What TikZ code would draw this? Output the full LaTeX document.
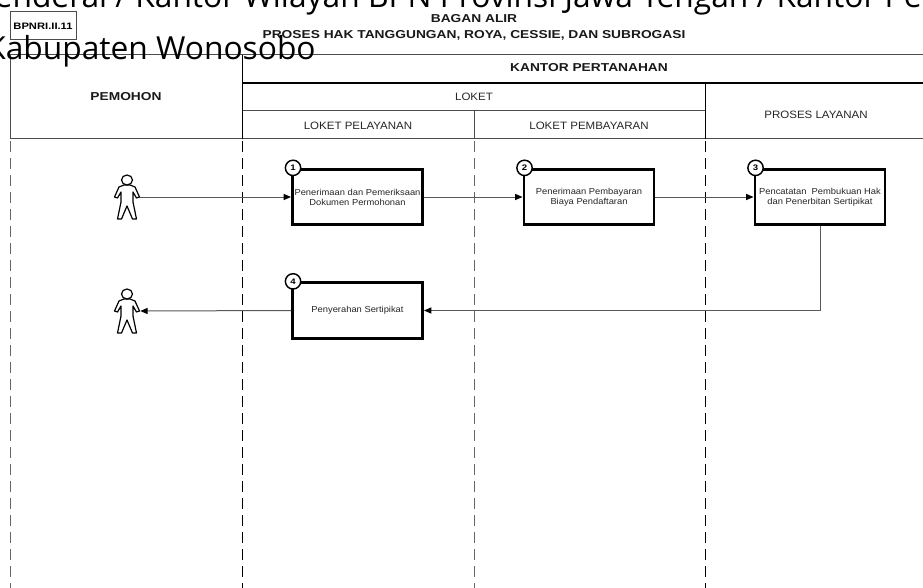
\documentclass[tikz,border=0pt]{standalone}
\usepackage{fontspec}
\setmainfont{Liberation Sans}
\newfontfamily\hdrfont[FakeStretch=1.2]{Liberation Sans}
\newfontfamily\regfont[FakeStretch=1.08]{Liberation Sans}
\newfontfamily\ovfont{Open Sans}
\usetikzlibrary{arrows.meta}
\tikzset{
  hdr/.style={font=\hdrfont\bfseries\fontsize{8.6pt}{10pt}\selectfont, inner sep=0pt, text=black!90},
  reg/.style={font=\regfont\fontsize{8pt}{9.5pt}\selectfont, inner sep=0pt, text=black!85},
  tline/.style={line width=0.75pt, draw=black!70},
  thickline/.style={line width=1.7pt, draw=black},
  lane/.style={line width=0.75pt, draw=black!75, dash pattern=on 8.25pt off 4.5pt},
  procbox/.style={draw=black, line width=2.2pt, fill=white, minimum width=97.5pt, minimum height=41.5pt,
    inner sep=1pt, align=center, font=\regfont\fontsize{6.5pt}{7.5pt}\selectfont, text=black!85},
  numcirc/.style={circle, draw=black, line width=1.1pt, fill=white, minimum size=11.5pt, inner sep=0pt,
    font=\hdrfont\bfseries\fontsize{6pt}{7pt}\selectfont},
  conn/.style={draw=black!65, line width=0.75pt},
  arr/.style={conn, -{Triangle[length=5.5pt,width=4.5pt,color=black]}},
  personspot/.style={minimum width=19.5pt, minimum height=33pt, inner sep=0pt},
  ovtext/.style={font=\ovfont\fontsize{23.8pt}{28pt}\selectfont, inner sep=0pt, anchor=base west, text=black},
  person/.pic={
    \draw[line width=0.9pt, fill=white, line join=round]
      (-3,-12) -- (-8,-10) -- (-12.5,0) -- (-9.5,1) -- (-6,-5) -- (-6,5) -- (-9.5,22) -- (-5.5,22)
      -- (0,9) -- (5.5,22) -- (9.5,22) -- (6,5) -- (6,-5) -- (9.5,1) -- (12.5,0) -- (8,-10) -- (3,-12) -- cycle;
    \draw[line width=0.9pt, fill=white] (0,-17) ellipse [x radius=5.5, y radius=5];
  }
}
\begin{document}
\begin{tikzpicture}[x=0.75pt,y=-0.75pt]
\useasboundingbox (0,0) rectangle (923,588);
\fill[white] (0,0) rectangle (923,588);

% code box and titles
\node[draw=black!70, line width=0.75pt, minimum width=49.5pt, minimum height=21pt, inner sep=0pt,
      font=\hdrfont\bfseries\fontsize{7pt}{8pt}\selectfont] (code) at (43,26) {BPNRI.II.11};
\node[hdr] (title1) at (474,19) {BAGAN ALIR};
\node[hdr] (title2) at (474,35.5) {PROSES HAK TANGGUNGAN, ROYA, CESSIE, DAN SUBROGASI};

% table header
\draw[tline] (10,55) -- (923,55);
\draw[thickline] (242,83) -- (923,83);
\draw[tline] (242,111) -- (705,111);
\draw[tline] (10,139) -- (923,139);
\draw[tline] (10,55) -- (10,139);
\draw[line width=0.75pt, draw=black] (242,55) -- (242,139);
\draw[tline] (474,111) -- (474,139);
\draw[line width=0.75pt, draw=black] (705,83) -- (705,139);

\node[hdr] (kantor) at (589,67.5) {KANTOR PERTANAHAN};
\node[hdr] (pemohon) at (126,97) {PEMOHON};
\node[reg] (loket) at (474,97) {LOKET};
\node[reg] (lpel) at (358,125.5) {LOKET PELAYANAN};
\node[reg] (lpem) at (589,125.5) {LOKET PEMBAYARAN};
\node[reg] (plyn) at (816,115) {PROSES LAYANAN};

% lanes
\draw[lane, draw=black!60] (10,141) -- (10,588);
\draw[lane, draw=black] (242,141) -- (242,588);
\draw[lane, draw=black!60] (474,141) -- (474,588);
\draw[lane, draw=black] (705,141) -- (705,588);

% persons
\pic at (127,197) {person};
\pic at (127,311) {person};
\node[personspot] (p1) at (127,197) {};
\node[personspot] (p2) at (127,311) {};

% process boxes
\node[procbox] (b1) at (357.5,197) {Penerimaan dan Pemeriksaan\\Dokumen Permohonan};
\node[procbox] (b2) at (589,197) {Penerimaan Pembayaran\\Biaya Pendaftaran};
\node[procbox] (b3) at (820,197) {Pencatatan\ \ Pembukuan Hak\\dan Penerbitan Sertipikat};
\node[procbox] (b4) at (357.5,310.5) {Penyerahan Sertipikat};

\node[numcirc] (n1) at ([xshift=1.5pt]b1.north west) {1};
\node[numcirc] (n2) at ([xshift=1.5pt]b2.north west) {2};
\node[numcirc] (n3) at ([xshift=1.5pt]b3.north west) {3};
\node[numcirc] (n4) at ([xshift=1.5pt]b4.north west) {4};

% connectors
\draw[arr] (p1.east) -- (b1.west);
\draw[arr] (b1.east) -- (b2.west);
\draw[arr] (b2.east) -- (b3.west);
\draw[arr] (b3.south) |- (b4.east);
\draw[arr] (b4.west) -- (p2.east);

% overlaid header text
\node[ovtext] (ov1) at (-14,8) {Jenderal / Kantor Wilayah BPN Provinsi Jawa Tengah / Kantor Pertanahan};
\node[ovtext] (ov2) at (-14,60) {Kabupaten Wonosobo};
\end{tikzpicture}
\end{document}
